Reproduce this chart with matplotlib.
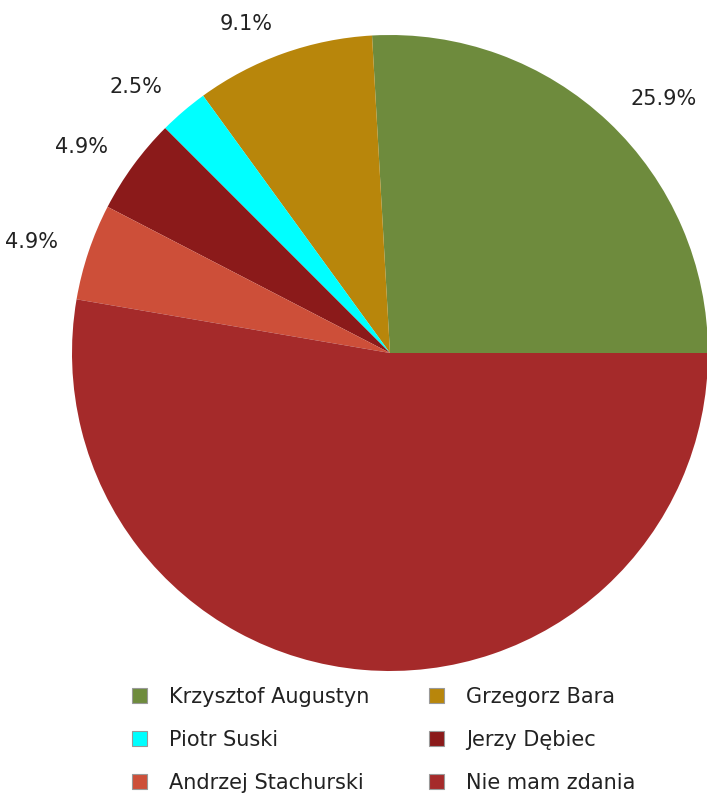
import matplotlib
matplotlib.use("Agg")
import matplotlib.pyplot as plt
from matplotlib.patches import Patch

labels = ["Krzysztof Augustyn", "Grzegorz Bara", "Piotr Suski",
          "Jerzy Dębiec", "Andrzej Stachurski", "Nie mam zdania"]
values = [25.9, 9.1, 2.5, 4.9, 4.9, 52.7]
colors = ["#6e8b3d", "#b8860b", "#00ffff", "#8b1a1a", "#cd4f39", "#a52a2a"]

W, H = 707, 796
fig = plt.figure(figsize=(W / 100, H / 100), dpi=100)
cx, cy, r = 390, 353, 318
ax = fig.add_axes([(cx - r) / W, (H - cy - r) / H, 2 * r / W, 2 * r / H])

wedges, texts, autotexts = ax.pie(
    values, colors=colors, startangle=0, counterclock=True,
    autopct=lambda p: "" if p > 50 else f"{p:.1f}%",
    pctdistance=1.1, radius=1.0,
    wedgeprops=dict(linewidth=0),
    textprops=dict(fontsize=15, color="#222222"))
for t in autotexts:
    t.set_clip_on(False)
    x, y = t.get_position()
    t.set_ha("left" if x > 0 else "right")
    t.set_va("center")
ax.set_xlim(-1, 1)
ax.set_ylim(-1, 1)
ax.set_aspect("equal")
ax.axis("off")

# legend filled row by row (2 columns)
order = [0, 2, 4, 1, 3, 5]
handles = [Patch(facecolor=colors[i], edgecolor="#999999", linewidth=0.8) for i in order]
fig.legend(handles, [labels[i] for i in order], ncol=2, frameon=False, fontsize=15,
           loc="upper left", bbox_to_anchor=(132 / W, 1 - 687 / H),
           handlelength=0.7, handleheight=0.7, handletextpad=1.07,
           columnspacing=2.88, labelspacing=1.1, borderpad=0,
           borderaxespad=0, labelcolor="#222222")

fig.savefig("out.png", dpi=100)
